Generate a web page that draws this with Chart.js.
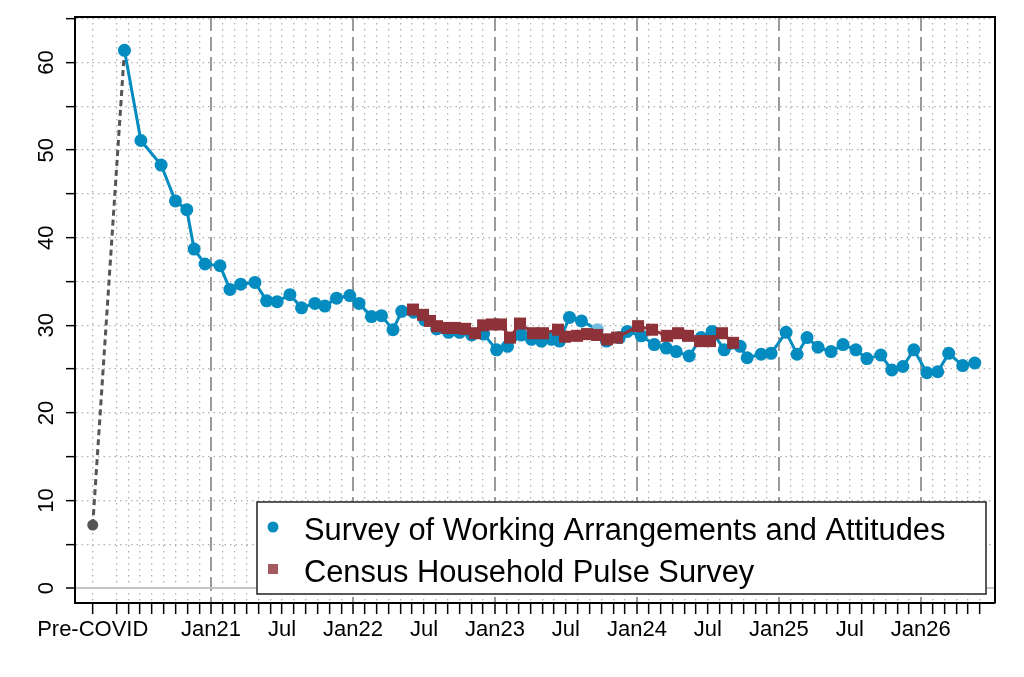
<!DOCTYPE html>
<html>
<head>
<meta charset="utf-8">
<title>Working from home share</title>
<script src="https://cdn.jsdelivr.net/npm/chart.js@4.4.1/dist/chart.umd.min.js"></script>
<style>
  html, body { margin: 0; padding: 0; background: #fff; }
  #wfhChart { display: block; }
</style>
</head>
<body>
<canvas id="wfhChart" width="1024" height="677"></canvas>
<script>
// x values are months since Jan 2020 (Jan21 = 12, Jan26 = 72)
const preCovidMonth = 2;
const preCovidShare = 7.2;

const swaaMonths = [4.68, 6.07, 7.78, 8.99, 9.95, 10.57, 11.49, 12.76, 13.60, 14.51, 15.71, 16.70, 17.59, 18.67,
  19.65, 20.78, 21.62, 22.61, 23.73, 24.51, 25.56, 26.41, 27.38, 28.12, 29.13, 30.06, 31.07, 32.08, 33.01, 34.03,
  35.04, 36.14, 37.06, 38.24, 39.09, 39.93, 40.78, 41.46, 42.30, 43.31, 44.66, 45.42, 46.51, 47.19, 48.37, 49.47,
  50.48, 51.32, 52.42, 53.43, 54.36, 55.38, 56.73, 57.32, 58.50, 59.34, 60.61, 61.54, 62.38, 63.31, 64.41, 65.42,
  66.51, 67.44, 68.62, 69.55, 70.48, 71.41, 72.51, 73.43, 74.36, 75.54, 76.56];
const swaaShares = [61.4, 51.1, 48.3, 44.2, 43.2, 38.7, 37.0, 36.8, 34.1, 34.7, 34.9, 32.8, 32.7, 33.5,
  32.0, 32.5, 32.2, 33.1, 33.4, 32.5, 31.0, 31.1, 29.5, 31.6, 31.5, 30.6, 29.6, 29.2, 29.2, 28.9,
  29.0, 27.2, 27.6, 28.9, 28.4, 28.2, 28.4, 28.2, 30.9, 30.5, 29.5, 28.2, 28.6, 29.3, 28.8, 27.8,
  27.4, 27.0, 26.5, 28.6, 29.3, 27.2, 27.6, 26.3, 26.7, 26.8, 29.2, 26.7, 28.6, 27.5, 27.0, 27.8,
  27.2, 26.2, 26.6, 24.9, 25.3, 27.2, 24.6, 24.7, 26.8, 25.4, 25.7];
const swaaFadedMonth = 44.66;

const hpsMonths = [29.07, 29.92, 30.51, 31.10, 31.95, 32.63, 33.47, 34.32, 35.00, 35.75, 36.51, 37.27, 38.12,
  39.22, 40.06, 41.33, 41.92, 42.94, 43.78, 44.63, 45.47, 46.32, 48.10, 49.28, 50.55, 51.48, 52.32, 53.34,
  54.18, 55.19, 56.13];
const hpsShares = [31.8, 31.2, 30.5, 29.9, 29.7, 29.7, 29.6, 29.1, 30.0, 30.1, 30.1, 28.6, 30.2,
  29.1, 29.1, 29.5, 28.7, 28.8, 29.0, 28.9, 28.4, 28.6, 29.9, 29.5, 28.8, 29.1, 28.8, 28.2,
  28.2, 29.1, 28.0];

const labelMonths = [2, 12, 18, 24, 30, 36, 42, 48, 54, 60, 66, 72];
const labelTexts = ['Pre-COVID', 'Jan21', 'Jul', 'Jan22', 'Jul', 'Jan23', 'Jul', 'Jan24', 'Jul', 'Jan25', 'Jul', 'Jan26'];
const yTickValues = [0, 5, 10, 15, 20, 25, 30, 35, 40, 45, 50, 55, 60, 65];
const seriesNames = ['Census Household Pulse Survey', 'Survey of Working Arrangements and Attitudes'];

const blue = '#048bbf';
const maroon = '#8c3238';
const font = 'Liberation Sans, Arial, Helvetica, sans-serif';

// one tick per month, Pre-COVID sits alone two months before May 2020
const tickMonths = [preCovidMonth];
for (let m = 4; m <= 77; m++) tickMonths.push(m);

const isJan = c => c.tick && c.tick.value >= 12 && c.tick.value % 12 === 0;

const frameAndLegend = {
  id: 'frameAndLegend',
  afterDatasetsDraw(chart) {
    const {ctx, chartArea: a} = chart;
    ctx.save();
    ctx.strokeStyle = '#000';
    ctx.lineWidth = 2;
    ctx.beginPath();
    ctx.moveTo(a.left, a.top);
    ctx.lineTo(a.right, a.top);
    ctx.lineTo(a.right, a.bottom);
    ctx.stroke();

    // legend box inside the plot, bottom right
    const bx = a.left + 182, by = a.bottom - 101, bw = a.right - 9 - bx, bh = 92;
    ctx.fillStyle = '#fff';
    ctx.fillRect(bx, by, bw, bh);
    ctx.lineWidth = 1.5;
    ctx.strokeStyle = '#222';
    ctx.strokeRect(bx, by, bw, bh);

    ctx.fillStyle = blue;
    ctx.beginPath();
    ctx.arc(bx + 16, by + 25, 5.5, 0, Math.PI * 2);
    ctx.fill();
    ctx.fillStyle = 'rgba(140,50,56,0.8)';
    ctx.fillRect(bx + 11, by + 62, 10, 10);

    ctx.fillStyle = '#000';
    ctx.font = '30.8px ' + font;
    ctx.textBaseline = 'alphabetic';
    ctx.fillText(seriesNames[1], bx + 47, by + 38);
    ctx.fillText(seriesNames[0], bx + 47, by + 80);
    ctx.restore();
  }
};

new Chart(document.getElementById('wfhChart'), {
  type: 'line',
  data: {
    datasets: [{
      label: seriesNames[0],
      data: hpsMonths.map((m, i) => ({x: m, y: hpsShares[i]})),
      borderColor: maroon,
      backgroundColor: maroon,
      borderWidth: 3,
      pointStyle: 'rect',
      pointRadius: 8.5,
      pointBorderWidth: 0,
      tension: 0
    }, {
      label: seriesNames[1],
      data: swaaMonths.map((m, i) => ({x: m, y: swaaShares[i]})),
      borderColor: blue,
      borderWidth: 3,
      pointRadius: 6.5,
      pointBorderWidth: 0,
      pointBackgroundColor: swaaMonths.map(m => m === swaaFadedMonth ? '#72bde0' : blue),
      tension: 0
    }, {
      label: 'Pre-COVID link',
      data: [{x: preCovidMonth, y: preCovidShare}, {x: swaaMonths[0], y: swaaShares[0]}],
      borderColor: '#555',
      backgroundColor: '#555',
      borderWidth: 3,
      borderDash: [6, 4],
      pointRadius: [5.5, 0],
      pointBorderWidth: 0
    }]
  },
  options: {
    animation: false,
    responsive: false,
    layout: {padding: {top: 17, right: 29, left: 0, bottom: 0}},
    plugins: {legend: {display: false}, tooltip: {enabled: false}},
    scales: {
      x: {
        type: 'linear',
        min: 0.5,
        max: 78.27,
        afterBuildTicks: s => { s.ticks = tickMonths.map(v => ({value: v})); },
        afterFit: s => { s.height = 74; s.paddingLeft = 0; s.paddingRight = 0; },
        ticks: {
          autoSkip: false,
          minRotation: 0,
          maxRotation: 0,
          padding: 3,
          color: '#000',
          font: {family: font, size: 22},
          callback: v => {
            const i = labelMonths.indexOf(v);
            return i >= 0 ? labelTexts[i] : '';
          }
        },
        grid: {
          color: c => isJan(c) ? '#9a9a9a' : '#b0b0b0',
          lineWidth: c => isJan(c) ? 2 : 1.3,
          tickLength: 11,
          tickColor: '#000',
          tickWidth: 1.5
        },
        border: {color: '#000', width: 2, dash: c => isJan(c) ? [14, 6] : [1.5, 4.5]}
      },
      y: {
        min: -1.7,
        max: 65.2,
        afterBuildTicks: s => { s.ticks = yTickValues.map(v => ({value: v})); },
        afterFit: s => { s.width = 75; s.paddingTop = 0; s.paddingBottom = 0; },
        ticks: {
          minRotation: 90,
          maxRotation: 90,
          crossAlign: 'center',
          padding: 7,
          color: '#000',
          font: {family: font, size: 22},
          callback: v => v % 10 === 0 ? String(v) : ''
        },
        grid: {
          color: c => c.tick && c.tick.value === 0 ? '#c4c4c4' : '#b0b0b0',
          lineWidth: c => c.tick && c.tick.value === 0 ? 2 : 1.3,
          tickLength: 9,
          tickColor: '#000',
          tickWidth: 1.5
        },
        border: {color: '#000', width: 2, dash: c => c.tick && c.tick.value === 0 ? [] : [1.5, 4]}
      }
    }
  },
  plugins: [frameAndLegend]
});
</script>
</body>
</html>
